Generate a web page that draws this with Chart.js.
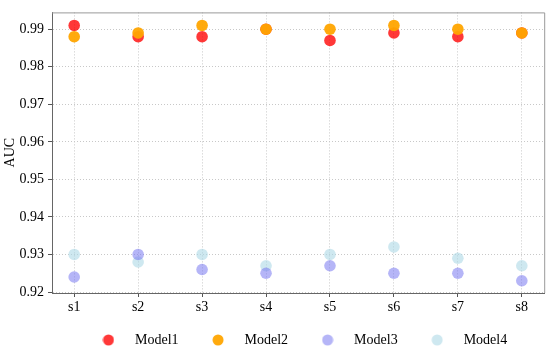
<!DOCTYPE html>
<html>
<head>
<meta charset="utf-8">
<script src="https://cdn.jsdelivr.net/npm/chart.js@4.4.1/dist/chart.umd.min.js"></script>
<style>
    body { margin: 0; background: #fff; }
    #wrap { width: 550px; height: 351px; }
</style>
</head>
<body>
<div id="wrap"><canvas id="aucChart"></canvas></div>
<script>
const categories = ['s1', 's2', 's3', 's4', 's5', 's6', 's7', 's8'];
const model1 = [0.991, 0.988, 0.988, 0.990, 0.987, 0.989, 0.988, 0.989];
const model2 = [0.988, 0.989, 0.991, 0.990, 0.990, 0.991, 0.990, 0.989];
const model3 = [0.924, 0.930, 0.926, 0.925, 0.927, 0.925, 0.925, 0.923];
const model4 = [0.930, 0.928, 0.930, 0.927, 0.930, 0.932, 0.929, 0.927];
const yTicks = [0.92, 0.93, 0.94, 0.95, 0.96, 0.97, 0.98, 0.99];

const serif = "'Liberation Serif', 'Times New Roman', serif";
const colors = ['rgba(255,0,0,0.78)', 'rgba(255,165,0,0.95)', 'rgba(120,120,240,0.55)', 'rgba(173,216,230,0.6)'];

// little round markers for the legend, so the gap to the text can be wider
function makeDot(color) {
    const c = document.createElement('canvas');
    c.width = 12;
    c.height = 12;
    const g = c.getContext('2d');
    g.fillStyle = color;
    g.beginPath();
    g.arc(6, 6, 5.5, 0, Math.PI * 2);
    g.fill();
    return c;
}
const legendDots = colors.map(makeDot);

function points(values) {
    return values.map((v, i) => ({ x: i, y: v }));
}

const framePlugin = {
    id: 'frame',
    beforeDatasetsDraw(chart) {
        const a = chart.chartArea;
        const ctx = chart.ctx;
        ctx.save();
        ctx.strokeStyle = '#999';
        ctx.lineWidth = 1;
        ctx.setLineDash([]);
        ctx.beginPath();
        ctx.moveTo(a.left, a.top + 0.5);
        ctx.lineTo(a.right + 0.5, a.top + 0.5);
        ctx.lineTo(a.right + 0.5, a.bottom);
        ctx.stroke();
        ctx.restore();
    }
};

document.addEventListener('DOMContentLoaded', function () {
    const ctx = document.getElementById('aucChart').getContext('2d');
    const names = ['Model1', 'Model2', 'Model3', 'Model4'];
    const series = [model1, model2, model3, model4];
    const orders = [4, 2, 1, 3];

    new Chart(ctx, {
        type: 'scatter',
        data: {
            datasets: series.map((s, i) => ({
                label: names[i],
                data: points(s),
                backgroundColor: colors[i],
                borderWidth: 0,
                pointRadius: 5.8,
                pointHoverRadius: 5.8,
                order: orders[i]
            }))
        },
        options: {
            responsive: true,
            maintainAspectRatio: false,
            animation: false,
            layout: { padding: { top: 4, right: 4, left: 0, bottom: 0 } },
            plugins: {
                tooltip: { enabled: false },
                legend: {
                    position: 'bottom',
                    fullSize: false,
                    maxHeight: 38,
                    labels: {
                        usePointStyle: true,
                        pointStyleWidth: 39,
                        padding: 20,
                        color: '#000',
                        font: { family: serif, size: 14 },
                        sort: (a, b) => a.datasetIndex - b.datasetIndex,
                        generateLabels: function (chart) {
                            const items = Chart.defaults.plugins.legend.labels.generateLabels(chart);
                            items.forEach(it => { it.pointStyle = legendDots[it.datasetIndex]; });
                            return items;
                        }
                    }
                }
            },
            scales: {
                x: {
                    type: 'linear',
                    min: -0.347,
                    max: 7.35,
                    afterBuildTicks: axis => { axis.ticks = categories.map((c, i) => ({ value: i })); },
                    afterFit: axis => { axis.height = 20; },
                    ticks: {
                        callback: v => categories[v],
                        color: '#000',
                        padding: 2,
                        maxRotation: 0,
                        font: { family: serif, size: 14 }
                    },
                    grid: {
                        color: '#c8c8c8',
                        tickColor: '#555',
                        tickLength: 4,
                        tickBorderDash: []
                    },
                    border: { color: '#666', width: 1, dash: [1, 2] }
                },
                y: {
                    min: 0.91974,
                    max: 0.99447,
                    afterBuildTicks: axis => { axis.ticks = yTicks.map(v => ({ value: v })); },
                    afterFit: axis => { axis.width = 52; },
                    ticks: {
                        callback: v => v.toFixed(2),
                        color: '#000',
                        padding: 4,
                        font: { family: serif, size: 14 }
                    },
                    title: {
                        display: true,
                        text: 'AUC',
                        color: '#000',
                        padding: { top: 2, bottom: 0 },
                        font: { family: serif, size: 14 }
                    },
                    grid: {
                        color: '#c8c8c8',
                        tickColor: '#555',
                        tickLength: 4,
                        tickBorderDash: []
                    },
                    border: { color: '#666', width: 1, dash: [1, 2] }
                }
            }
        },
        plugins: [framePlugin]
    });
});
</script>
</body>
</html>
